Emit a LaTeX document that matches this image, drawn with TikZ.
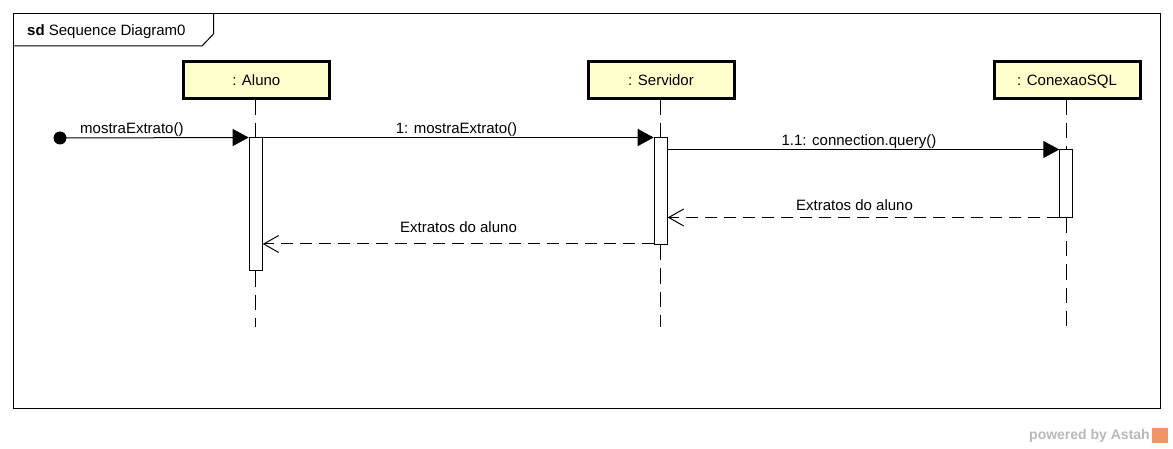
\documentclass[tikz,border=0pt]{standalone}
\usepackage{fontspec}
\setmainfont{Liberation Sans}
\usetikzlibrary{arrows.meta}
\definecolor{lifefill}{RGB}{255,255,204}
\definecolor{wmgray}{RGB}{185,185,185}
\definecolor{wmorange}{RGB}{240,150,100}
\begin{document}
\begin{tikzpicture}[x=1pt,y=-1pt,
  txt/.style={font=\fontsize{15pt}{18pt}\selectfont, inner sep=0pt},
  lbl/.style={txt, anchor=base},
  headbox/.style={txt, draw, line width=3pt, fill=lifefill, minimum width=146pt, minimum height=37pt, text height=11pt, text depth=0pt},
  actbar/.style={draw, line width=1pt, fill=white, minimum width=13pt, inner sep=0pt},
  lifeline/.style={line width=1pt, dash pattern=on 15pt off 8pt},
  callmsg/.style={line width=1pt, -{Triangle[length=16pt,width=17pt]}},
  retmsg/.style={line width=1pt, dash pattern=on 12pt off 7pt, -{Straight Barb[length=15pt,width=17pt,line width=1pt]}},
  framebox/.style={line width=1pt}]
\useasboundingbox (0,0) rectangle (1173,449);
\fill[white] (0,0) rectangle (1173,449);

% frame
\draw[framebox] (13.5,13.5) rectangle (1160,408.5);
\draw[framebox] (13.5,46) -- (202,46) -- (213.5,34) -- (213.5,13.5);
\node[lbl, anchor=base west] (title) at (27,36) {\textbf{sd} Sequence Diagram0};

% lifeline heads
\node[headbox] (aluno) at (256.3,80) {: Aluno};
\node[headbox] (serv) at (661,80) {: Servidor};
\node[headbox] (sql) at (1067,80) {: ConexaoSQL};

% activation bars
\node[actbar, minimum height=133pt] (alunoBar) at (255.7,204.5) {};
\node[actbar, minimum height=107pt] (servBar) at (660.7,191.5) {};
\node[actbar, minimum height=68pt] (sqlBar) at (1066.3,184) {};

% lifeline ends
\coordinate (alunoEnd) at (255.7,327);
\coordinate (servEnd) at (660.7,327);
\coordinate (sqlEnd) at (1066.3,327);

\draw[lifeline] (aluno.south -| alunoBar) -- (alunoBar.north);
\draw[lifeline] (alunoBar.south) -- (alunoEnd);
\draw[lifeline] (serv.south -| servBar) -- (servBar.north);
\draw[lifeline] (servBar.south) -- (servEnd);
\draw[lifeline] (sql.south -| sqlBar) -- (sqlBar.north);
\draw[lifeline] (sqlBar.south) -- (sqlEnd);

% found message
\node[circle, fill=black, inner sep=0pt, minimum size=13pt] (start) at (60,138) {};
\draw[callmsg] (start.center) -- (alunoBar.north west);
\node[lbl, anchor=base west] (m0) at (80,134) {mostraExtrato()};

% 1: mostraExtrato()
\draw[callmsg] (alunoBar.north east) -- (servBar.north west);
\node[lbl] (m1) at (456.5,134) {1: mostraExtrato()};

% 1.1 connection.query()
\draw[callmsg] (servBar.east |- sqlBar.north) -- (sqlBar.north west);
\node[lbl] (m11) at (859,146) {1.1: connection.query()};

% returns
\draw[retmsg] ([yshift=1pt]sqlBar.south west) -- ([yshift=1pt]sqlBar.south west -| servBar.east);
\node[lbl] (r1) at (854.5,211) {Extratos do aluno};

\draw[retmsg] ([yshift=1.5pt]servBar.south west) -- ([yshift=1.5pt]servBar.south west -| alunoBar.east);
\node[lbl] (r2) at (458.5,232.7) {Extratos do aluno};

% watermark
\node[anchor=base west, inner sep=0pt, text=wmgray, font=\fontsize{14pt}{16pt}\selectfont\bfseries] (wm) at (1029,439.3) {powered by Astah};
\fill[wmorange] (1152,428) rectangle (1168,443);
\end{tikzpicture}
\end{document}
